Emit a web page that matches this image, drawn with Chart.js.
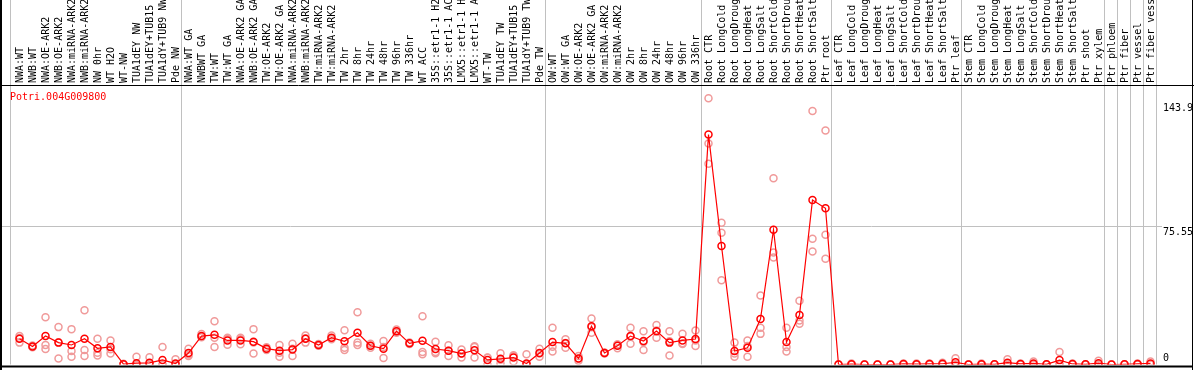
<!DOCTYPE html>
<html>
<head>
<meta charset="utf-8">
<script src="https://cdn.jsdelivr.net/npm/chart.js@4.4.0/dist/chart.umd.min.js"></script>
<style>
  body { margin: 0; background: #fff; }
</style>
</head>
<body>
<canvas id="myChart" width="1194" height="370"></canvas>
<script>
// Données
const labels = [
  'NWA:WT', 'NWB:WT', 'NWA:OE-ARK2', 'NWB:OE-ARK2', 'NWA:miRNA-ARK2', 'NWB:miRNA-ARK2',
  'NW 0hr', 'WT H2O', 'WT-NW', 'TUA1dEY NW', 'TUA1dEY+TUB15 NW', 'TUA1dY+TUB9 NW', 'Pde NW',
  'NWA:WT GA', 'NWBWT GA', 'TW:WT', 'TW:WT GA', 'NWA:OE-ARK2 GA', 'NWB:OE-ARK2 GA',
  'TW:OE-ARK2', 'TW:OE-ARK2 GA', 'NWA:miRNA-ARK2', 'NWB:miRNA-ARK2', 'TW:miRNA-ARK2',
  'TW:miRNA-ARK2', 'TW 2hr', 'TW 8hr', 'TW 24hr', 'TW 48hr', 'TW 96hr', 'TW 336hr', 'WT ACC',
  '35S::etr1-1 H2O', '35S::etr1-1 ACC', 'LMX5::etr1-1 H2O', 'LMX5::etr1-1 ACC', 'WT-TW',
  'TUA1dEY TW', 'TUA1dEY+TUB15 TW', 'TUA1dY+TUB9 TW', 'Pde TW',
  'OW:WT', 'OW:WT GA', 'OW:OE-ARK2', 'OW:OE-ARK2 GA', 'OW:miRNA-ARK2', 'OW:miRNA-ARK2',
  'OW 2hr', 'OW 8hr', 'OW 24hr', 'OW 48hr', 'OW 96hr', 'OW 336hr',
  'Root CTR', 'Root LongCold', 'Root LongDrought', 'Root LongHeat', 'Root LongSalt',
  'Root ShortCold', 'Root ShortDrought', 'Root ShortHeat', 'Root ShortSalt', 'Ptr root',
  'Leaf CTR', 'Leaf LongCold', 'Leaf LongDrought', 'Leaf LongHeat', 'Leaf LongSalt',
  'Leaf ShortCold', 'Leaf ShortDrought', 'Leaf ShortHeat', 'Leaf ShortSalt', 'Ptr leaf',
  'Stem CTR', 'Stem LongCold', 'Stem LongDrought', 'Stem LongHeat', 'Stem LongSalt',
  'Stem ShortCold', 'Stem ShortDrought', 'Stem ShortHeat', 'Stem ShortSalt', 'Ptr shoot',
  'Ptr xylem', 'Ptr phloem', 'Ptr fiber', 'Ptr vessel', 'Ptr fiber vessel'
];

const means = [
  14.1, 9.9, 15.6, 12.0, 10.7, 14.1, 8.9, 9.6, 0.2, 0.7,
  0.9, 2.5, 0.5, 6.3, 15.6, 16.3, 13.2, 13.2, 12.5, 8.7,
  7.6, 8.2, 14.1, 10.7, 14.7, 12.7, 17.4, 10.3, 8.7, 18.3,
  11.6, 13.0, 8.5, 7.6, 6.0, 7.8, 2.5, 3.1, 3.8, 0.5,
  6.3, 12.3, 11.6, 3.3, 21.0, 6.3, 10.3, 15.6, 12.9, 18.3,
  12.0, 13.2, 14.0, 126.1, 65.0, 7.4, 9.2, 25.0, 73.9, 12.3,
  27.2, 90.2, 85.7, 0, 0.2, 0, 0, 0, 0.3, 0.2,
  0.3, 0.4, 1.2, 0, 0.2, 0.1, 1.0, 0.3, 0.6, 0.1,
  2.4, 0.3, 0.1, 0.7, 0, 0.1, 0.3, 0.6
];

const rep1 = [
  15.6, 10.4, 25.9, 20.5, 19.4, 29.7, 14.1, 13.2, 0.4, 4.2,
  4.0, 9.6, 2.9, 8.7, 16.7, 23.7, 14.7, 14.7, 19.4, 9.4,
  10.7, 11.4, 15.9, 11.2, 15.9, 18.8, 28.6, 11.4, 12.9, 19.2,
  12.0, 26.5, 12.5, 10.5, 8.2, 9.6, 3.8, 6.2, 4.7, 5.6,
  8.7, 20.1, 13.8, 4.7, 25.2, 6.6, 11.0, 20.1, 18.3, 21.6,
  18.3, 16.8, 18.6, 146.0, 77.7, 12.0, 13.2, 37.9, 102.2, 20.1,
  34.9, 139.0, 128.3, 0, 0.5, 0, 0, 0, 0.5, 0.6,
  0.5, 1.0, 3.4, 0, 0.5, 0.2, 2.9, 0.6, 1.6, 0.2,
  6.9, 0.6, 0.2, 2.0, 0, 0.2, 0.6, 1.6
];

const rep2 = [
  12.0, 9.5, 10.7, 3.3, 7.4, 8.0, 6.5, 8.3, 0.1, 0,
  0, 0, 0, 4.7, 15.0, 14.7, 10.9, 11.1, 6.0, 8.0,
  6.5, 4.7, 12.0, 10.3, 13.8, 9.2, 12.0, 9.2, 3.6, 17.4,
  11.2, 6.9, 6.2, 4.7, 3.8, 3.8, 0, 0.5, 1.6, 0,
  4.3, 7.1, 9.2, 2.0, 17.4, 6.0, 8.9, 11.4, 8.0, 14.7,
  4.9, 11.6, 10.2, 121.2, 72.3, 4.2, 4.2, 20.1, 61.4, 9.6,
  24.1, 69.0, 71.2, 0, 0, 0, 0, 0, 0.2, 0,
  0.3, 0.2, 0.2, 0, 0, 0, 0, 0.2, 0.2, 0,
  0.3, 0.2, 0, 0, 0, 0, 0.2, 0.2
];

const rep3 = [
  14.6, 9.8, 8.5, 12.2, 4.3, 4.7, 4.9, 6.0, 0, 0,
  0, 0, 0, 5.5, 15.2, 9.6, 14.0, 13.8, 12.1, 8.7,
  4.2, 8.6, 14.4, 10.6, 14.4, 8.0, 10.7, 10.3, 9.6, 18.3,
  11.6, 5.6, 6.8, 7.6, 6.0, 10.0, 3.7, 2.6, 5.1, 0,
  6.0, 9.7, 11.8, 3.2, 20.4, 6.3, 11.0, 15.3, 12.4, 18.6,
  12.8, 11.2, 13.2, 110.1, 46.2, 6.0, 10.2, 16.8, 58.7, 7.1,
  22.3, 62.0, 58.0, 0, 0, 0, 0, 0, 0, 0,
  0, 0, 0, 0, 0, 0, 0, 0, 0, 0,
  0, 0, 0, 0, 0, 0, 0, 0
];

const yTicks = [0, 75.55, 143.9];
// dernier index de chaque groupe (lignes grises)
const groupEnds = [12, 40, 52, 62, 72, 83, 84, 85, 86, 87];
const geneName = 'Potri.004G009800';

const mono = 'DejaVu Sans Mono';
const gris = '#c0c0c0';
const rouge = '#ff0000';
const rose = '#f09a9a';

// Cadre, séparateurs, titre et valeurs de l'axe
const decor = {
  id: 'decor',
  beforeDatasetsDraw(chart) {
    const { ctx, chartArea, scales: { x, y } } = chart;
    ctx.save();
    ctx.strokeStyle = gris;
    ctx.lineWidth = 1;
    const xs = [chartArea.left - 3];
    groupEnds.forEach(i => {
      xs.push((x.getPixelForValue(i) + x.getPixelForValue(i + 1)) / 2 - 1);
    });
    xs.forEach(px => {
      const p = Math.floor(px) + 0.5;
      ctx.beginPath();
      ctx.moveTo(p, 0);
      ctx.lineTo(p, chartArea.bottom);
      ctx.stroke();
    });
    const top = yTicks[yTicks.length - 1];
    yTicks.filter(v => v > 0 && v < top).forEach(v => {
      const p = Math.floor(y.getPixelForValue(v)) + 0.5;
      ctx.beginPath();
      ctx.moveTo(0, p);
      ctx.lineTo(y.left + 5, p);
      ctx.stroke();
    });
    ctx.restore();
  },
  afterDraw(chart) {
    const { ctx, chartArea, scales: { y } } = chart;
    const w = chart.width, h = chart.height;
    ctx.save();
    ctx.strokeStyle = '#000';
    ctx.lineWidth = 1;
    ctx.beginPath();
    ctx.moveTo(0, chartArea.top + 0.5);
    ctx.lineTo(w, chartArea.top + 0.5);
    ctx.moveTo(w - 1.5, 0);
    ctx.lineTo(w - 1.5, h);
    ctx.stroke();
    ctx.lineWidth = 2;
    ctx.beginPath();
    ctx.moveTo(1, 0);
    ctx.lineTo(1, h);
    ctx.moveTo(0, chartArea.bottom + 2);
    ctx.lineTo(w - 1, chartArea.bottom + 2);
    ctx.stroke();

    ctx.font = '10px ' + mono;
    ctx.fillStyle = rouge;
    ctx.textAlign = 'left';
    ctx.textBaseline = 'middle';
    ctx.fillText(geneName, chartArea.left - 3, chartArea.top + 12);

    ctx.fillStyle = '#000';
    yTicks.forEach(v => {
      const p = y.getPixelForValue(v);
      if (v === 0) {
        ctx.textBaseline = 'bottom';
        ctx.fillText(String(v), y.left + 6, p - 1);
      } else {
        ctx.textBaseline = 'top';
        ctx.fillText(String(v), y.left + 6, p + 1);
      }
    });
    ctx.restore();
  }
};

function repSet(data, name) {
  return {
    label: name,
    data: data,
    showLine: false,
    pointRadius: 3.5,
    pointBorderWidth: 1.5,
    pointBorderColor: rose,
    pointBackgroundColor: 'rgba(0,0,0,0)',
    order: 1
  };
}

const ctx = document.getElementById('myChart');
new Chart(ctx, {
  type: 'line',
  data: {
    labels: labels,
    datasets: [
      {
        label: 'moyenne',
        data: means,
        borderColor: rouge,
        borderWidth: 1.2,
        pointRadius: 3.5,
        pointBorderWidth: 1.5,
        pointBorderColor: rouge,
        pointBackgroundColor: 'rgba(0,0,0,0)',
        tension: 0,
        order: 0
      },
      repSet(rep1, 'rep1'),
      repSet(rep2, 'rep2'),
      repSet(rep3, 'rep3')
    ]
  },
  options: {
    responsive: false,
    animation: false,
    devicePixelRatio: 1,
    layout: { padding: { left: 13, right: 1, top: 0, bottom: 3 } },
    plugins: {
      legend: { display: false },
      tooltip: { enabled: false }
    },
    scales: {
      x: {
        position: 'top',
        offset: true,
        grid: { display: false },
        border: { display: false },
        ticks: {
          autoSkip: false,
          minRotation: 90,
          maxRotation: 90,
          padding: -6,
          labelOffset: 13,
          color: '#000',
          font: { family: mono, size: 10 }
        },
        afterFit(scale) { scale.height = 85; }
      },
      y: {
        position: 'right',
        min: 0,
        max: 153.3,
        grid: { display: false },
        border: { display: false },
        ticks: { display: false },
        afterBuildTicks(scale) { scale.ticks = yTicks.map(v => ({ value: v })); },
        afterFit(scale) { scale.width = 36; }
      }
    }
  },
  plugins: [decor]
});
</script>
</body>
</html>
